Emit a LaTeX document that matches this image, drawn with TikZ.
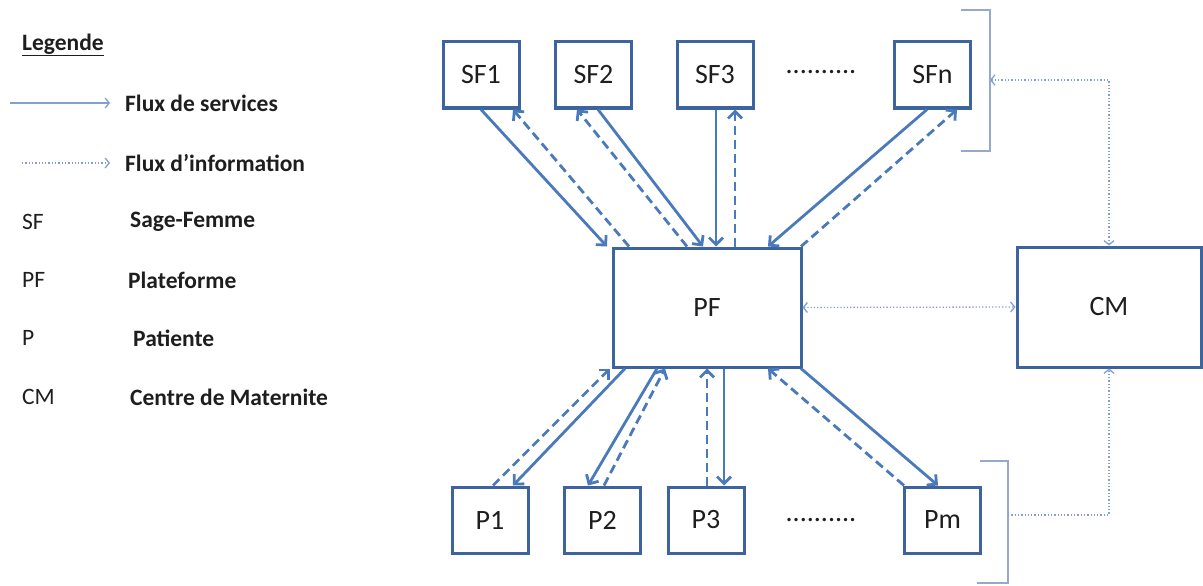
\documentclass[tikz,border=0pt]{standalone}
\usepackage{fontspec}
\setmainfont{Carlito}
\usetikzlibrary{arrows.meta,positioning}
\definecolor{boxblue}{RGB}{62,100,160}
\definecolor{arrblue}{RGB}{74,122,186}
\definecolor{lineblue}{RGB}{130,160,210}
\definecolor{bracegray}{RGB}{150,170,200}
\definecolor{txtgray}{RGB}{30,30,30}
\begin{document}
\begin{tikzpicture}[x=1pt,y=-1pt,>={Straight Barb[length=7pt,width=14pt]}]
	\tikzset{
		unit/.style={draw=boxblue, line width=3pt, fill=white, minimum width=76pt,
				minimum height=66pt, inner sep=0pt, font=\fontsize{28}{32}\selectfont, text=txtgray},
		hub/.style={unit, minimum width=188pt, minimum height=119pt},
		svc/.style={->, draw=arrblue, line width=2.8pt},
		inf/.style={svc, dash pattern=on 9pt off 5pt},
		link/.style={draw=lineblue, line width=1.3pt, >={Straight Barb[length=4pt,width=10pt]}},
		brace/.style={draw=bracegray, line width=1.3pt},
		leg/.style={anchor=west, inner sep=0pt, text=txtgray, font=\fontsize{23.5}{26}\selectfont},
		filler/.style={inner sep=0pt, text=txtgray, font=\fontsize{28}{32}\selectfont},
	}
	\useasboundingbox (0,0) rectangle (1203,586);

	% legend
	\node[leg, font=\fontsize{23.5}{26}\selectfont\bfseries] (legtitle) at (22,45) {\underline{Legende}};
	\coordinate (svcA) at (10,103);
	\coordinate (svcB) at (110,103);
	\coordinate (infA) at (22,163);
	\coordinate (infB) at (110,163);
	\draw[link, ->] (svcA) -- (svcB);
	\draw[link, dotted, ->] (infA) -- (infB);
	\node[leg, font=\fontsize{23.5}{26}\selectfont\bfseries] (legsvc) at (125,103) {Flux de services};
	\node[leg, font=\fontsize{23.5}{26}\selectfont\bfseries] (leginf) at (125,163) {Flux d’information};
	\foreach \ab/\txt/\x/\y in {SF/Sage-Femme/130/222, PF/Plateforme/128/280,
			P/Patiente/133/338, CM/Centre de Maternite/130/397}
		{
			\node[leg] (ab\ab) at (22,\y) {\ab};
			\node[leg, font=\fontsize{23.5}{26}\selectfont\bfseries] (tx\ab) at (\x,\y) {\txt};
		}

	% boxes
	\foreach \n/\x in {1/481, 2/593.5, 3/715, n/932.5}
		\node[unit] (SF\n) at (\x,75) {SF\n};
	\foreach \n/\x in {1/490, 2/602.5, 3/706, m/942.5}
		\node[unit] (P\n) at (\x,520) {P\n};
	\node[hub] (PF) at (707,307.5) {PF};
	\node[hub, minimum width=184pt, minimum height=120pt] (CM) at (1109,307) {CM};
	\node[filler] (SFdots) at (821,72) {..........};
	\node[filler] (Pdots) at (821,520) {..........};

	% flows SF <-> PF
	\foreach \n/\a/\b/\c/\d in {1/0/-100/32/-78, 2/4.5/-4/-16.5/-20,
			3/1/9/20/28, n/-5.5/61/24.5/94}
		{
			\draw[svc] ([xshift=\a]SF\n.south) -- ([xshift=\b]PF.north);
			\draw[inf] ([xshift=\d]PF.north) -- ([xshift=\c]SF\n.south);
		}
	% flows PF <-> P
	\foreach \n/\a/\b/\c/\d in {1/-82/23/3/-97, 2/-50/-14.5/1.5/-42,
			3/17/18/1/0, m/94/-4.5/-38.5/61}
		{
			\draw[svc] ([xshift=\a]PF.south) -- ([xshift=\b]P\n.north);
			\draw[inf] ([xshift=\c]P\n.north) -- ([xshift=\d]PF.south);
		}

	% brackets and links to CM
	\draw[brace] (961,10) -- (990,10) -- (990,151) -- (961,151);
	\draw[brace] (980,461) -- (1008,461) -- (1008,583) -- (977,583);
	\coordinate (SFgroup) at (990,80);
	\coordinate (Pgroup) at (1008,515);
	\draw[link, dotted, <->] (SFgroup) -| (CM.north);
	\draw[link, dotted, ->] (Pgroup) -| (CM.south);
	\draw[link, dotted, <->] (PF.east) -- (CM.west);
\end{tikzpicture}
\end{document}
